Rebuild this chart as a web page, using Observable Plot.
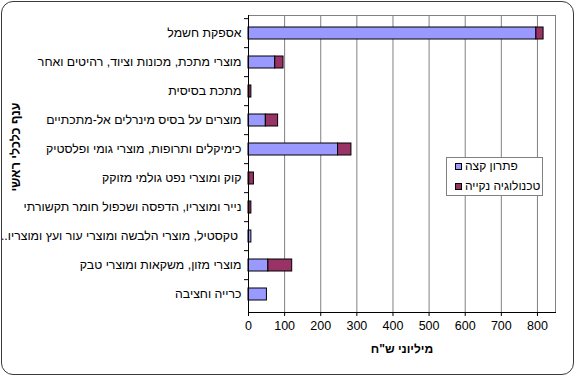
<!DOCTYPE html>
<html>
<head>
<meta charset="utf-8">
<script src="https://cdn.jsdelivr.net/npm/d3@7"></script>
<script src="https://cdn.jsdelivr.net/npm/@observablehq/plot@0.6"></script>
<style>
  body { margin: 0; background: #fff; }
  #wrap { position: relative; width: 576px; height: 378px; overflow: hidden; font-family: "Liberation Sans", Arial, sans-serif; }
  #wrap svg { position: absolute; left: 0; top: 0; }
  #border { position: absolute; left: 1px; top: 1px; width: 571px; height: 372px; border: 1.5px solid #3a3a3a; border-radius: 12px; pointer-events: none; }
  #legend { position: absolute; left: 446px; top: 157px; width: 97px; height: 39px; border: 1px solid #808080; background: #fff; font-size: 12px; box-sizing: border-box; }
  .item { position: absolute; left: 0; height: 14px; line-height: 14px; white-space: nowrap; }
  .sw { position: absolute; left: 8px; top: 4px; width: 5px; height: 5px; border: 1px solid #000; }
  .lab { position: absolute; left: 18px; top: 0; direction: rtl; }
</style>
</head>
<body>
<div id="wrap"><div id="border"></div></div>
<script>
const categories = [
  "אספקת חשמל",
  "מוצרי מתכת, מכונות וציוד, רהיטים ואחר",
  "מתכת בסיסית",
  "מוצרים על בסיס מינרלים אל-מתכתיים",
  "כימיקלים ותרופות, מוצרי גומי ופלסטיק",
  "קוק ומוצרי נפט גולמי מזוקק",
  "נייר ומוצריו, הדפסה ושכפול חומר תקשורתי",
  "\u200F\u00A0טקסטיל, מוצרי הלבשה ומוצרי עור ועץ ומוצריו..\u200F",
  "מוצרי מזון, משקאות ומוצרי טבק",
  "כרייה וחציבה"
];
const seriesNames = ["פתרון קצה", "טכנולוגיה נקייה"];
const endSolution = [797, 74, 2, 48, 248, 2, 2, 8, 55, 51];
const cleanTech   = [20, 23, 6, 34, 37, 13, 6, 0, 66, 0];
const xTicks = [0, 100, 200, 300, 400, 500, 600, 700, 800];
const colors = ["#9999FF", "#993366"];
const xTitle = "מיליוני ש\"ח";
const yTitle = "ענף כלכלי ראשי";

const data = [];
categories.forEach((c, i) => {
  data.push({cat: c, series: seriesNames[0], value: endSolution[i]});
  data.push({cat: c, series: seriesNames[1], value: cleanTech[i]});
});

const chart = Plot.plot({
  width: 576,
  height: 378,
  marginLeft: 248,
  marginRight: 21,
  marginTop: 15,
  marginBottom: 66,
  style: {fontFamily: "'Liberation Sans', Arial, sans-serif", fontSize: "12px", color: "#000", background: "transparent"},
  x: {domain: [0, 850], ticks: xTicks},
  y: {domain: categories, paddingInner: 0.6, paddingOuter: 0.3},
  color: {domain: seriesNames, range: colors},
  marks: [
    Plot.gridX(xTicks.filter(d => d > 0), {stroke: "#808080", strokeOpacity: 1}),
    Plot.frame({stroke: "#808080"}),
    Plot.barX(data, Plot.stackX({y: "cat", x: "value", fill: "series", stroke: "#000", strokeWidth: 1, order: null})),
    Plot.ruleX([0], {stroke: "#000"}),
    Plot.frame({anchor: "bottom", stroke: "#000"}),
    Plot.axisX({ticks: xTicks, tickSize: 4, tickPadding: 5, label: null, fontSize: 12.5}),
    Plot.axisY({tickSize: 0, tickPadding: 7, label: null, fontSize: 12.3}),
    Plot.axisY({tickSize: 4, text: null, label: null, dy: -14.85}),
    Plot.text([xTitle], {frameAnchor: "bottom", dy: 40, fontWeight: "bold", fontSize: 12}),
    Plot.text([yTitle], {frameAnchor: "left", textAnchor: "middle", dx: -233, dy: -17, rotate: -90, fontWeight: "bold", fontSize: 12.5})
  ]
});
const wrap = document.getElementById("wrap");
wrap.insertBefore(chart, wrap.firstChild);

const legend = document.createElement("div");
legend.id = "legend";
seriesNames.forEach((s, i) => {
  const item = document.createElement("div");
  item.className = "item";
  item.style.top = (1 + i * 20) + "px";
  item.style.width = "95px";
  const sw = document.createElement("div");
  sw.className = "sw";
  sw.style.background = colors[i];
  const lab = document.createElement("div");
  lab.className = "lab";
  lab.textContent = s;
  item.appendChild(sw);
  item.appendChild(lab);
  legend.appendChild(item);
});
wrap.appendChild(legend);
</script>
</body>
</html>
